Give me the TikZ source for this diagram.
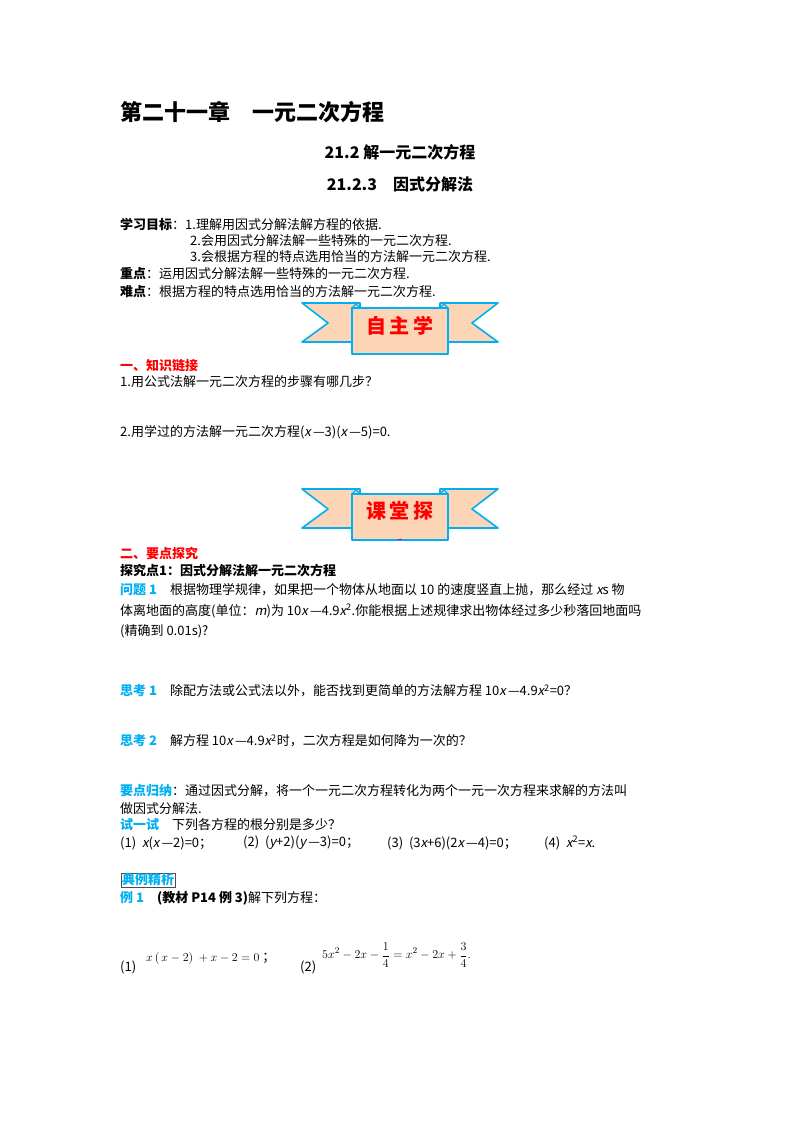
\documentclass[tikz,border=0pt]{standalone}
\usepackage{fontspec}
\setmainfont{Noto Sans CJK SC}[ItalicFont={Noto Sans CJK SC}, ItalicFeatures={FakeSlant=0.2}]
\usetikzlibrary{positioning}
\definecolor{qblue}{RGB}{0,176,240}
\definecolor{peach}{RGB}{251,213,181}
\tikzset{
  txt/.style={anchor=west, inner sep=0pt, font=\fontsize{13}{15}\selectfont},
  head/.style={anchor=west, inner sep=0pt, font=\fontsize{14}{16}\selectfont\bfseries},
  ribbon/.style={draw=qblue, line width=1.6pt, fill=peach, line join=round},
}
\newcommand{\tag}[1]{\textcolor{qblue}{\textbf{#1}}}
\newcommand{\mybanner}[3]{%
  % tails
  \draw[ribbon] (#1-98,#2-25) -- (#1-40,#2-25) -- (#1-40,#2+14) -- (#1-98,#2+14) -- (#1-72,#2-5) -- cycle;
  \draw[ribbon] (#1+98,#2-25) -- (#1+40,#2-25) -- (#1+40,#2+14) -- (#1+98,#2+14) -- (#1+72,#2-5) -- cycle;
  % panel
  \draw[ribbon] (#1-48,#2-20) rectangle (#1+48,#2+26);
  \draw[qblue, line width=1.2pt] (#1-48,#2-20) -- (#1-44,#2-24) -- (#1-40,#2-20);
  \draw[qblue, line width=1.2pt] (#1+48,#2-20) -- (#1+44,#2-24) -- (#1+40,#2-20);
  \begin{scope}
    \clip (#1-47,#2-19) rectangle (#1+47,#2+25);
    \node[align=center, text=red, inner sep=0pt, font=\fontsize{20}{38}\selectfont\bfseries] at (#1,#2+16) {#3};
  \end{scope}
}
\begin{document}
\begin{tikzpicture}[x=1pt,y=-1pt]
\useasboundingbox[fill=white] (0,0) rectangle (800,1132);

% headings
\node[anchor=west, inner sep=0pt, font=\fontsize{22}{24}\selectfont\bfseries] (title) at (120,112) {第二十一章\quad 一元二次方程};
\node[inner sep=0pt, font=\fontsize{16}{18}\selectfont\bfseries] (sec) at (400,152) {21.2\ 解一元二次方程};
\node[inner sep=0pt, font=\fontsize{16}{18}\selectfont\bfseries] (sub) at (400,184) {21.2.3\quad 因式分解法};

% goals
\node[txt] (g1) at (120,224) {\textbf{学习目标}：1.理解用因式分解法解方程的依据.};
\node[txt] (g2) at (190,241) {2.会用因式分解法解一些特殊的一元二次方程.};
\node[txt] (g3) at (190,257) {3.会根据方程的特点选用恰当的方法解一元二次方程.};
\node[txt] (k1) at (120,274) {\textbf{重点}：运用因式分解法解一些特殊的一元二次方程.};
\node[txt] (k2) at (120,292) {\textbf{难点}：根据方程的特点选用恰当的方法解一元二次方程.};

\mybanner{400}{328}{自\,主\,学\\一}

\node[txt, font=\fontsize{13}{15}\selectfont\bfseries, text=red] (p1) at (120,366) {一、知识链接};
\node[txt] (q1) at (120,382) {1.用公式法解一元二次方程的步骤有哪几步？};
\node[txt] (q2) at (120,432) {2.用学过的方法解一元二次方程(\textit{x}\,—3)(\textit{x}\,—5)=0.};

\mybanner{400}{514}{课\,堂\,探\\究}

\node[txt, font=\fontsize{13}{15}\selectfont\bfseries, text=red] (p2) at (120,553) {二、要点探究};
\node[txt] (e1) at (120,571) {\textbf{探究点1：因式分解法解一元二次方程}};
\node[txt] (w1) at (120,590) {\tag{问题 1}\quad 根据物理学规律，如果把一个物体从地面以 10\ 的速度竖直上抛，那么经过 \textit{x}s 物};
\node[txt] (w2) at (120,611) {体离地面的高度(单位：\textit{m})为 10\textit{x}\,—4.9\textit{x}\textsuperscript{2}.你能根据上述规律求出物体经过多少秒落回地面吗};
\node[txt] (w3) at (120,631) {(精确到 0.01s)?};
\node[txt] (t1) at (120,691) {\tag{思考 1}\quad 除配方法或公式法以外，能否找到更简单的方法解方程 10\textit{x}\,—4.9\textit{x}\textsuperscript{2}=0？};
\node[txt] (t2) at (120,741) {\tag{思考 2}\quad 解方程 10\textit{x}\,—4.9\textit{x}\textsuperscript{2}时，二次方程是如何降为一次的？};
\node[txt] (s1) at (120,791) {\tag{要点归纳}：通过因式分解，将一个一元二次方程转化为两个一元一次方程来求解的方法叫};
\node[txt] (s2) at (120,809) {做因式分解法.};
\node[txt] (try) at (120,825) {\tag{试一试}\quad 下列各方程的根分别是多少？};
\node[txt] (r1) at (120,843) {(1)\ \ \textit{x}(\textit{x}\,—2)=0；};
\node[txt] (r2) at (243,843) {(2)\ \ (\textit{y}+2)(\textit{y}\,—3)=0；};
\node[txt] (r3) at (387,843) {(3)\ \ (3\textit{x}+6)(2\textit{x}\,—4)=0；};
\node[txt] (r4) at (544,843) {(4)\ \ \textit{x}\textsuperscript{2}=\textit{x}.};

% examples
\node[txt, draw=black!70, inner sep=1pt] (ex) at (121,880) {\tag{典例精析}};
\node[txt] (ex1) at (120,898) {\tag{例 1}\quad \textbf{(教材 \textit{P}14 例 3)}解下列方程：};
\node[txt] (n1) at (120,967) {(1)};
\node[txt] (f1) at (146,958) {$x\left(\,x-2\right)\ +x-2=0$\ ；};
\node[txt] (n2) at (300,967) {(2)};
\node[txt] (f2) at (322,955) {$\displaystyle 5x^2-2x-\frac{1}{4}=x^2-2x+\frac{3}{4}.$};
\end{tikzpicture}
\end{document}
